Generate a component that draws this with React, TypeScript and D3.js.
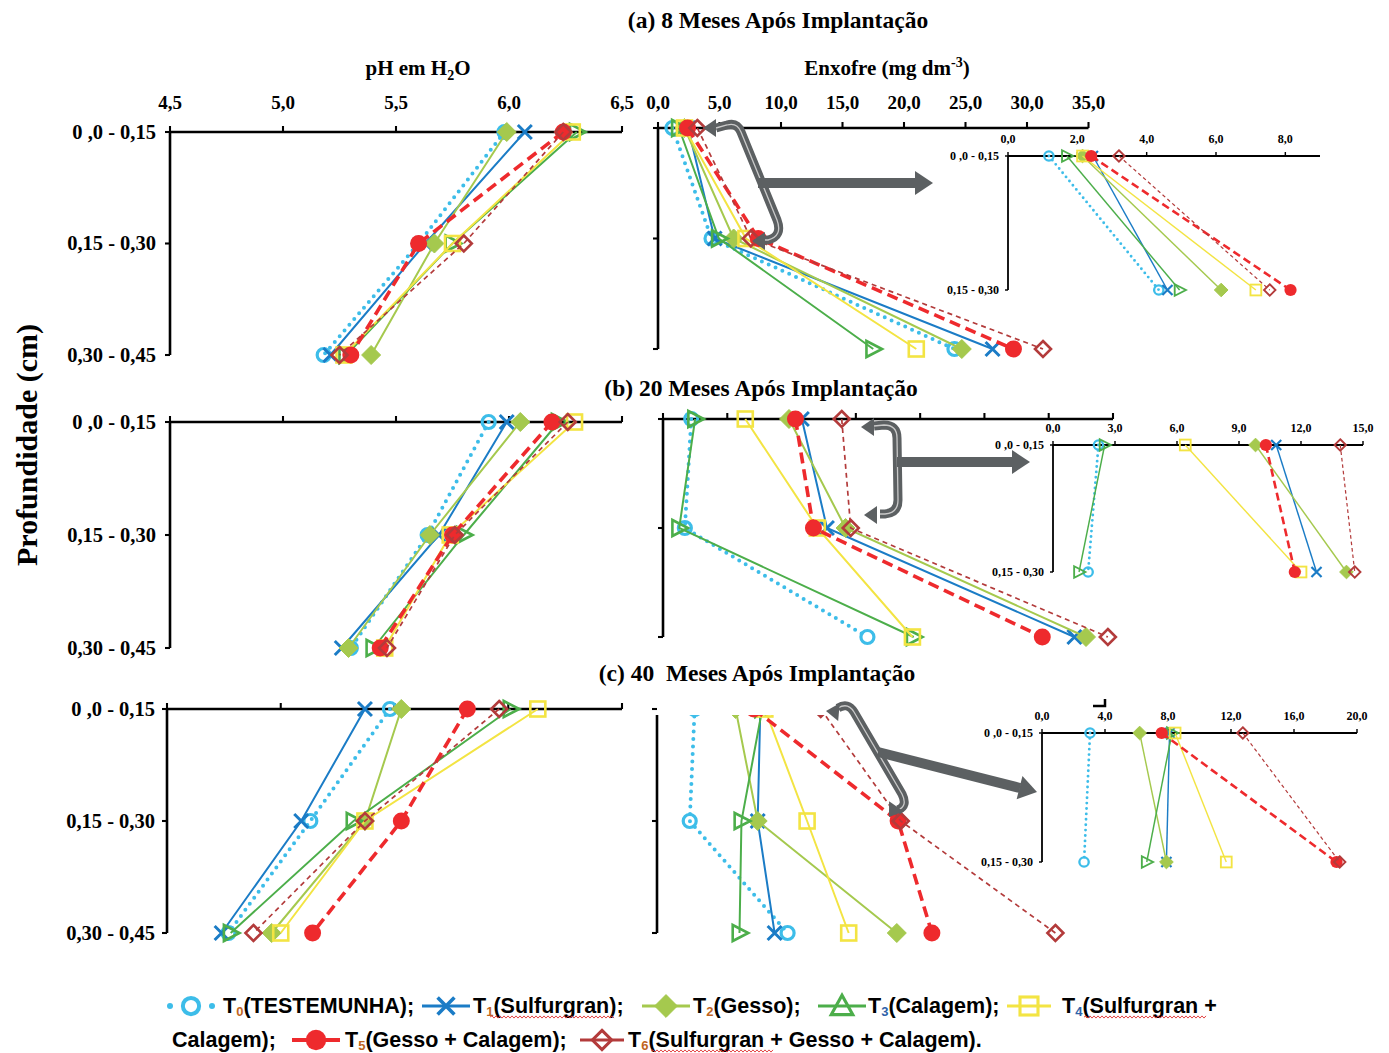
import React from 'react';
import * as d3 from 'd3';

// ---------- data ----------
const depths = ['0 ,0 - 0,15', '0,15 - 0,30', '0,30 - 0,45'];
const insetDepths = ['0 ,0 - 0,15', '0,15 - 0,30'];
const treatments = ['T0', 'T1', 'T2', 'T3', 'T4', 'T5', 'T6'];

const phTicks = [4.5, 5.0, 5.5, 6.0, 6.5];
const sulfurTicks = [0, 5, 10, 15, 20, 25, 30, 35];
const insetTicksA = [0, 2, 4, 6, 8];
const insetTicksB = [0, 3, 6, 9, 12, 15];
const insetTicksC = [0, 4, 8, 12, 16, 20];

// rows: T0..T6 ; columns: depth 0-0.15, 0.15-0.30, 0.30-0.45
const ph8 = [
  [5.98, 5.6, 5.18],
  [6.07, 5.63, 5.21],
  [5.99, 5.67, 5.39],
  [6.3, 5.75, 5.28],
  [6.28, 5.75, 5.27],
  [6.24, 5.6, 5.3],
  [6.24, 5.8, 5.25],
];
const sulfur8 = [
  [1.18, 4.35, 24.1],
  [2.45, 4.6, 27.2],
  [2.15, 6.15, 24.7],
  [1.7, 4.95, 17.5],
  [2.15, 7.15, 21.0],
  [2.4, 8.15, 28.9],
  [3.2, 7.55, 31.3],
];
const ph20 = [
  [5.91, 5.64, 5.3],
  [5.99, 5.69, 5.26],
  [6.05, 5.65, 5.29],
  [6.22, 5.8, 5.4],
  [6.29, 5.74, 5.45],
  [6.19, 5.75, 5.43],
  [6.26, 5.76, 5.46],
];
const sulfur20 = [
  [2.2, 1.7, 15.9],
  [10.8, 12.75, 32.0],
  [9.8, 14.2, 32.9],
  [2.5, 1.26, 19.5],
  [6.4, 12.0, 19.4],
  [10.3, 11.7, 29.5],
  [13.9, 14.6, 34.6],
];
const ph40 = [
  [5.48, 5.13, 4.77],
  [5.37, 5.09, 4.74],
  [5.53, 5.37, 4.96],
  [6.01, 5.32, 4.78],
  [6.13, 5.37, 5.0],
  [5.82, 5.53, 5.14],
  [5.96, 5.37, 4.88],
];
const sulfur40 = [
  [3.05, 2.67, 10.2],
  [8.1, 7.9, 9.2],
  [6.2, 7.9, 18.6],
  [8.25, 6.65, 6.5],
  [8.45, 11.7, 14.9],
  [7.6, 18.7, 21.3],
  [12.75, 18.9, 30.8],
];

const legendNames = [
  '(TESTEMUNHA);',
  '(Sulfurgran);',
  '(Gesso);',
  '(Calagem);',
  '(Sulfurgran +',
  '(Gesso + Calagem);',
  '(Sulfurgran + Gesso + Calagem).',
];

// ---------- styles ----------
const colors = ['#3dbde9', '#1b7cc6', '#a5c94e', '#4cae4a', '#f3e443', '#ee2a2d', '#b33b3b'];
const subColors = ['#c0651e', '#c0651e', '#c0651e', '#2d62a8', '#2d62a8', '#c0651e', '#c0651e'];
const seriesStyle = [
  { w: 4, dash: [0, 7.5], cap: 'round', marker: 'circle' },
  { w: 2, dash: null, cap: 'butt', marker: 'x' },
  { w: 2, dash: null, cap: 'butt', marker: 'diamondF' },
  { w: 2, dash: null, cap: 'butt', marker: 'triR' },
  { w: 2, dash: null, cap: 'butt', marker: 'square' },
  { w: 3.6, dash: [11, 6], cap: 'butt', marker: 'dot' },
  { w: 1.7, dash: [5, 4], cap: 'butt', marker: 'diamondO' },
];
const SERIF = "'Liberation Serif', 'Times New Roman', serif";
const SANS = "'Liberation Sans', Arial, sans-serif";
const GRAY = '#5c6062';

const fmt = (v: number) => d3.format('.1f')(v).replace('.', ',');

function Marker({ type, x, y, c, k }: any) {
  const sw = 2.6 * k;
  if (type === 'circle')
    return <circle cx={x} cy={y} r={6.5 * k} fill="none" stroke={c} strokeWidth={3.2 * k} />;
  if (type === 'x') {
    const s = 7 * k;
    return (
      <path d={`M${x - s},${y - s}L${x + s},${y + s}M${x - s},${y + s}L${x + s},${y - s}`} stroke={c} strokeWidth={3 * k} />
    );
  }
  if (type === 'diamondF' || type === 'diamondO') {
    const s = (type === 'diamondF' ? 9.5 : 8) * k;
    return (
      <polygon
        points={`${x},${y - s} ${x + s},${y} ${x},${y + s} ${x - s},${y}`}
        fill={type === 'diamondF' ? c : 'none'}
        stroke={c}
        strokeWidth={type === 'diamondF' ? 1 : sw}
      />
    );
  }
  if (type === 'triR') {
    const s = 8 * k;
    return (
      <polygon points={`${x - s * 0.85},${y - s} ${x + s * 1.1},${y} ${x - s * 0.85},${y + s}`} fill="none" stroke={c} strokeWidth={sw} />
    );
  }
  if (type === 'triU') {
    const s = 9 * k;
    return <polygon points={`${x - s},${y + s * 0.8} ${x},${y - s} ${x + s},${y + s * 0.8}`} fill="none" stroke={c} strokeWidth={sw} />;
  }
  if (type === 'square') {
    const s = 7.5 * k;
    return <rect x={x - s} y={y - s} width={2 * s} height={2 * s} fill="none" stroke={c} strokeWidth={sw} />;
  }
  if (type === 'dot') return <circle cx={x} cy={y} r={8.5 * k} fill={c} />;
  return null;
}

function Series({ data, x, y, cats, k }: any) {
  const line = d3
    .line<[number, number]>()
    .x((d) => d[0])
    .y((d) => d[1]);
  return (
    <g>
      {data.map((vals: number[], i: number) => {
        const pts: [number, number][] = cats.map((c: string, j: number) => [x(vals[j]), y(c)]);
        const st = seriesStyle[i];
        return (
          <g key={i}>
            <path
              d={line(pts) || ''}
              fill="none"
              stroke={colors[i]}
              strokeWidth={st.w * k}
              strokeDasharray={st.dash ? st.dash.map((d) => d * k).join(' ') : undefined}
              strokeLinecap={st.cap as any}
            />
            {pts.map((p, j) => (
              <Marker key={j} type={st.marker} x={p[0]} y={p[1]} c={colors[i]} k={k} />
            ))}
          </g>
        );
      })}
    </g>
  );
}

function TopAxis({ x, y0, ticks, labels, fs, tl, sw, drawLine = true }: any) {
  const [a, b] = x.range();
  return (
    <g>
      {drawLine && <line x1={a} x2={b} y1={y0} y2={y0} stroke="#000" strokeWidth={sw} />}
      {ticks.map((t: number) => (
        <line key={t} x1={x(t)} x2={x(t)} y1={y0} y2={y0 - tl} stroke="#000" strokeWidth={sw * 0.8} />
      ))}
      {labels &&
        ticks.map((t: number) => (
          <text key={'l' + t} x={x(t)} y={y0 - labels} textAnchor="middle" fontFamily={SERIF} fontWeight="bold" fontSize={fs}>
            {fmt(t)}
          </text>
        ))}
    </g>
  );
}

function LeftAxis({ x0, y, cats, sw, tl, labelFs, labelGap, yTop }: any) {
  const ys = cats.map((c: string) => y(c));
  return (
    <g>
      <line x1={x0} x2={x0} y1={yTop ?? ys[0]} y2={ys[ys.length - 1]} stroke="#000" strokeWidth={sw} />
      {ys.map((yy: number, i: number) => (
        <line key={i} x1={x0 - tl} x2={x0} y1={yy} y2={yy} stroke="#000" strokeWidth={sw * 0.8} />
      ))}
      {labelFs &&
        cats.map((c: string, i: number) => (
          <text
            key={'t' + i}
            x={x0 - labelGap}
            y={ys[i] + labelFs * 0.33}
            textAnchor="end"
            fontFamily={SERIF}
            fontWeight="bold"
            fontSize={labelFs}
            style={{ whiteSpace: 'pre' }}
          >
            {c}
          </text>
        ))}
    </g>
  );
}

function head(tx: number, ty: number, ang: number, len = 17, hw = 10) {
  const r = (ang * Math.PI) / 180;
  const dx = Math.cos(r),
    dy = Math.sin(r);
  const bx = tx - dx * len,
    by = ty - dy * len;
  const px = -dy,
    py = dx;
  return `${tx},${ty} ${bx + px * hw},${by + py * hw} ${bx - px * hw},${by - py * hw}`;
}

function Callout({ bracket, heads, arrow, arrowHead }: any) {
  return (
    <g>
      <path d={bracket} fill="none" stroke={GRAY} strokeWidth={9} strokeLinejoin="round" />
      <path d={bracket} fill="none" stroke="#c9c9c9" strokeWidth={1.3} />
      {heads.map((h: number[], i: number) => (
        <polygon key={i} points={head(h[0], h[1], h[2], 13, 9)} fill={GRAY} />
      ))}
      <path d={arrow} fill="none" stroke={GRAY} strokeWidth={10} />
      <polygon points={head(arrowHead[0], arrowHead[1], arrowHead[2], 18, 12)} fill={GRAY} />
    </g>
  );
}

function wavy(x0: number, x1: number, y: number) {
  let d = `M${x0},${y}`;
  let up = true;
  for (let x = x0 + 2; x <= x1; x += 2) {
    d += `L${x},${y + (up ? -1.1 : 1.1)}`;
    up = !up;
  }
  return d;
}

export default function App() {
  const W = 1389,
    H = 1053;

  const xPh = d3.scaleLinear().domain([4.5, 6.5]).range([170, 622]);
  const xPhC = d3.scaleLinear().domain([4.5, 6.5]).range([167, 622]);
  const xSa = d3.scaleLinear().domain([0, 35]).range([658, 1088.5]);
  const xSb = d3.scaleLinear().domain([0, 35]).range([663, 1113]);
  const xSc = d3.scaleLinear().domain([0, 35]).range([655, 1110]);
  const xIa = d3.scaleLinear().domain([0, 9]).range([1008, 1320]);
  const xIb = d3.scaleLinear().domain([0, 15]).range([1053, 1363]);
  const xIc = d3.scaleLinear().domain([0, 20]).range([1042, 1357]);

  const yPhA = d3.scalePoint<string>().domain(depths).range([132, 355]);
  const yPhB = d3.scalePoint<string>().domain(depths).range([422, 648]);
  const yPhC = d3.scalePoint<string>().domain(depths).range([709, 933]);
  const ySa = d3.scalePoint<string>().domain(depths).range([128, 349]);
  const ySb = d3.scalePoint<string>().domain(depths).range([419, 637]);
  const ySc = d3.scalePoint<string>().domain(depths).range([709, 933]);
  const yIa = d3.scalePoint<string>().domain(insetDepths).range([156, 290]);
  const yIb = d3.scalePoint<string>().domain(insetDepths).range([445, 572]);
  const yIc = d3.scalePoint<string>().domain(insetDepths).range([733, 862]);

  const inset = (data: number[][]) => data.map((r) => r.slice(0, 2));

  const legendRowY = [1006, 1040];
  const legendMarkX = [191, 446, 666, 842, 1029, 316, 602];
  const legendMarkHalf = [24, 24, 24, 24, 22, 24, 22];
  const legendTextX = [223, 473, 693, 868, 1062, 345, 628];
  const legendRowOf = [0, 0, 0, 0, 0, 1, 1];
  const LFS = 21.5;

  return (
    <svg width={W} height={H} style={{ position: 'absolute', left: 0, top: 0, background: '#fff' }}>
      <defs>
        <clipPath id="clipC">
          <rect x={600} y={715} width={480} height={240} />
        </clipPath>
      </defs>
      <rect width={W} height={H} fill="#fff" />

      {/* titles */}
      <text x={778} y={28} textAnchor="middle" fontFamily={SERIF} fontWeight="bold" fontSize={23.5}>
        (a) 8 Meses Após Implantação
      </text>
      <text x={761} y={396} textAnchor="middle" fontFamily={SERIF} fontWeight="bold" fontSize={23.5}>
        (b) 20 Meses Após Implantação
      </text>
      <text x={757} y={681} textAnchor="middle" fontFamily={SERIF} fontWeight="bold" fontSize={23.5} style={{ whiteSpace: 'pre' }}>
        (c) 40  Meses Após Implantação
      </text>
      <text x={418} y={75} textAnchor="middle" fontFamily={SERIF} fontWeight="bold" fontSize={21}>
        pH em H<tspan fontSize={14} dy={5}>2</tspan>
        <tspan dy={-5}>O</tspan>
      </text>
      <text x={887} y={75} textAnchor="middle" fontFamily={SERIF} fontWeight="bold" fontSize={21}>
        Enxofre (mg dm<tspan fontSize={14} dy={-8}>-3</tspan>
        <tspan dy={8}>)</tspan>
      </text>
      <text
        transform="translate(37,445) rotate(-90)"
        textAnchor="middle"
        fontFamily={SERIF}
        fontWeight="bold"
        fontSize={30}
      >
        Profundidade (cm)
      </text>

      {/* ===== Panel a ===== */}
      <TopAxis x={xPh} y0={132} ticks={phTicks} labels={23} fs={19} tl={6} sw={2.6} />
      <LeftAxis x0={170} y={yPhA} cats={depths} sw={2.6} tl={5} labelFs={20.5} labelGap={14} />
      <Series data={ph8} x={xPh} y={yPhA} cats={depths} k={1} />

      <TopAxis x={xSa} y0={128} ticks={sulfurTicks} labels={19} fs={19} tl={6} sw={2.6} />
      <LeftAxis x0={658} y={ySa} cats={depths} sw={2.6} tl={5} />
      <Series data={sulfur8} x={xSa} y={ySa} cats={depths} k={1} />
      <Callout
        bracket="M716,128 L727,125 Q737,122 741,132 L777,220 Q783,236 768,240 L764,240"
        heads={[
          [703, 128, 180],
          [752, 241, 180],
        ]}
        arrow="M758,183 L915,183"
        arrowHead={[933, 183, 0]}
      />
      <TopAxis x={xIa} y0={156} ticks={insetTicksA} labels={13} fs={12} tl={4} sw={1.8} />
      <LeftAxis x0={1008} y={yIa} cats={insetDepths} sw={1.8} tl={3} labelFs={12} labelGap={9} />
      <Series data={inset(sulfur8)} x={xIa} y={yIa} cats={insetDepths} k={0.72} />

      {/* ===== Panel b ===== */}
      <TopAxis x={xPh} y0={422} ticks={phTicks} fs={19} tl={6} sw={2.6} />
      <LeftAxis x0={170} y={yPhB} cats={depths} sw={2.6} tl={5} labelFs={20.5} labelGap={14} />
      <Series data={ph20} x={xPh} y={yPhB} cats={depths} k={1} />

      <TopAxis x={xSb} y0={419} ticks={sulfurTicks} fs={19} tl={6} sw={2.6} />
      <LeftAxis x0={663} y={ySb} cats={depths} sw={2.6} tl={5} />
      <Series data={sulfur20} x={xSb} y={ySb} cats={depths} k={1} />
      <Callout
        bracket="M874,426 L884,425 Q897,425 897,438 L898,500 Q898,513 885,514 L880,514"
        heads={[
          [861, 427, 180],
          [864, 515, 180],
        ]}
        arrow="M897,462 L1012,462"
        arrowHead={[1030, 462, 0]}
      />
      <TopAxis x={xIb} y0={445} ticks={insetTicksB} labels={13} fs={12} tl={4} sw={1.8} />
      <LeftAxis x0={1053} y={yIb} cats={insetDepths} sw={1.8} tl={3} labelFs={12} labelGap={9} />
      <Series data={inset(sulfur20)} x={xIb} y={yIb} cats={insetDepths} k={0.72} />

      {/* ===== Panel c ===== */}
      <TopAxis x={xPhC} y0={709} ticks={phTicks} fs={19} tl={6} sw={2.6} />
      <LeftAxis x0={167} y={yPhC} cats={depths} sw={2.6} tl={5} labelFs={20.5} labelGap={12} />
      <Series data={ph40} x={xPhC} y={yPhC} cats={depths} k={1} />

      <LeftAxis x0={657} y={ySc} cats={depths} sw={2.6} tl={5} yTop={715} />
      <g clipPath="url(#clipC)">
        <Series data={sulfur40} x={xSc} y={ySc} cats={depths} k={1} />
      </g>
      <path d="M1093,706 L1105,706 L1105,699" fill="none" stroke="#000" strokeWidth={2.5} />
      <Callout
        bracket="M838,708 Q848,702 854,712 L902,794 Q908,806 898,810"
        heads={[
          [826, 711, 185],
          [889, 817, 125],
        ]}
        arrow="M878,752 L1020,788"
        arrowHead={[1037, 792, 14]}
      />
      <TopAxis x={xIc} y0={733} ticks={insetTicksC} labels={13} fs={12} tl={4} sw={1.8} />
      <LeftAxis x0={1042} y={yIc} cats={insetDepths} sw={1.8} tl={3} labelFs={12} labelGap={9} />
      <Series data={inset(sulfur40)} x={xIc} y={yIc} cats={insetDepths} k={0.72} />

      {/* ===== Legend ===== */}
      {treatments.map((t, i) => {
        const ly = legendRowY[legendRowOf[i]];
        const cx = legendMarkX[i];
        const hw = legendMarkHalf[i];
        const st = seriesStyle[i];
        return (
          <g key={t}>
            {i === 0 ? (
              <g>
                <circle cx={cx - 21} cy={ly} r={3} fill={colors[0]} />
                <circle cx={cx + 21} cy={ly} r={3} fill={colors[0]} />
              </g>
            ) : (
              <line x1={cx - hw} x2={cx + hw} y1={ly} y2={ly} stroke={colors[i]} strokeWidth={i === 5 ? 4 : 3} />
            )}
            <Marker type={i === 3 ? 'triU' : st.marker} x={cx} y={ly} c={colors[i]} k={i === 0 ? 1.25 : 1.2} />
            <text x={legendTextX[i]} y={ly + 7} fontFamily={SANS} fontWeight="bold" fontSize={LFS}>
              T
              <tspan fontSize={13} dy={3} fill={subColors[i]}>
                {t.slice(1)}
              </tspan>
              <tspan dy={-3}>{legendNames[i]}</tspan>
            </text>
          </g>
        );
      })}
      <text x={172} y={1047} fontFamily={SANS} fontWeight="bold" fontSize={LFS}>
        Calagem);
      </text>
      <path d={wavy(490, 614, 1017)} fill="none" stroke="#e03030" strokeWidth={0.9} />
      <path d={wavy(1084, 1206, 1017)} fill="none" stroke="#e03030" strokeWidth={0.9} />
      <path d={wavy(651, 773, 1051)} fill="none" stroke="#e03030" strokeWidth={0.9} />
    </svg>
  );
}
